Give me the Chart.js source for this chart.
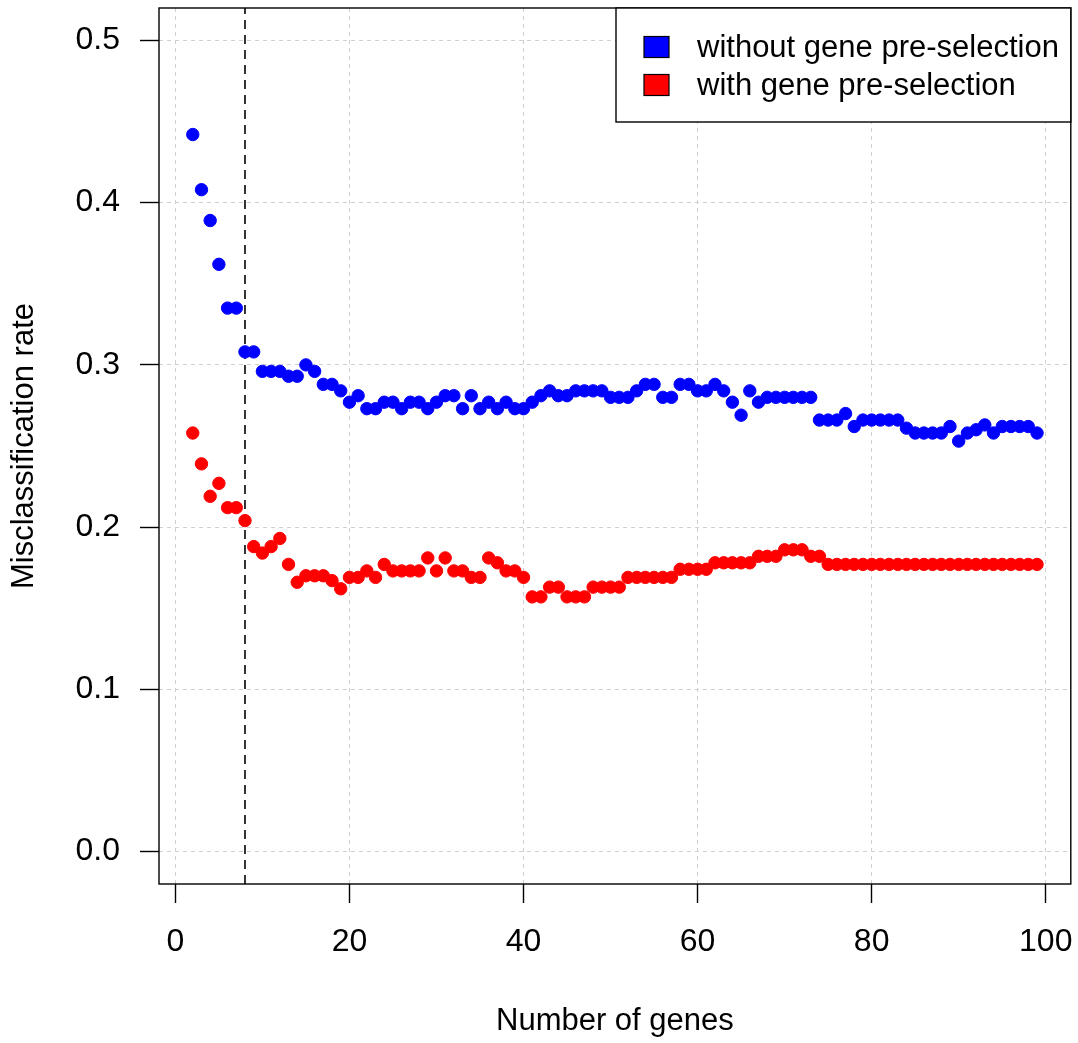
<!DOCTYPE html>
<html>
<head>
<meta charset="utf-8">
<script src="https://cdn.jsdelivr.net/npm/chart.js@4.4.1/dist/chart.umd.min.js"></script>
<style>
  html, body { margin: 0; padding: 0; background: #ffffff; }
  #c { display: block; }
</style>
</head>
<body>
<canvas id="c" width="1078" height="1043"></canvas>
<script>
// ---- data ----
const genes = [2,3,4,5,6,7,8,9,10,11,12,13,14,15,16,17,18,19,20,21,22,23,24,25,26,27,28,29,30,
  31,32,33,34,35,36,37,38,39,40,41,42,43,44,45,46,47,48,49,50,51,52,53,54,55,56,57,58,59,60,
  61,62,63,64,65,66,67,68,69,70,71,72,73,74,75,76,77,78,79,80,81,82,83,84,85,86,87,88,89,90,
  91,92,93,94,95,96,97,98,99];

const withoutPre = [0.442,0.408,0.389,0.362,0.335,0.335,0.308,0.308,0.296,0.296,0.296,0.293,0.293,0.300,
  0.296,0.288,0.288,0.284,0.277,0.281,0.273,0.273,0.277,0.277,0.273,0.277,0.277,0.273,0.277,
  0.281,0.281,0.273,0.281,0.273,0.277,0.273,0.277,0.273,0.273,0.277,0.281,0.284,0.281,0.281,
  0.284,0.284,0.284,0.284,0.280,0.280,0.280,0.284,0.288,0.288,0.280,0.280,0.288,0.288,0.284,
  0.284,0.288,0.284,0.277,0.269,0.284,0.277,0.280,0.280,0.280,0.280,0.280,0.280,0.266,0.266,
  0.266,0.270,0.262,0.266,0.266,0.266,0.266,0.266,0.261,0.258,0.258,0.258,0.258,0.262,0.253,
  0.258,0.260,0.263,0.258,0.262,0.262,0.262,0.262,0.258];

const withPre = [0.258,0.239,0.219,0.227,0.212,0.212,0.204,0.188,0.184,0.188,0.193,0.177,0.166,0.170,
  0.170,0.170,0.167,0.162,0.169,0.169,0.173,0.169,0.177,0.173,0.173,0.173,0.173,0.181,0.173,
  0.181,0.173,0.173,0.169,0.169,0.181,0.178,0.173,0.173,0.169,0.157,0.157,0.163,0.163,0.157,
  0.157,0.157,0.163,0.163,0.163,0.163,0.169,0.169,0.169,0.169,0.169,0.169,0.174,0.174,0.174,
  0.174,0.178,0.178,0.178,0.178,0.178,0.182,0.182,0.182,0.186,0.186,0.186,0.182,0.182,0.177,
  0.177,0.177,0.177,0.177,0.177,0.177,0.177,0.177,0.177,0.177,0.177,0.177,0.177,0.177,0.177,
  0.177,0.177,0.177,0.177,0.177,0.177,0.177,0.177,0.177];

const seriesLabels = ["without gene pre-selection", "with gene pre-selection"];
const seriesColors = ["#0000ff", "#ff0000"];
const xTicks = [0, 20, 40, 60, 80, 100];
const yTicks = [0.0, 0.1, 0.2, 0.3, 0.4, 0.5];
const cutoff = 8;
const xRange = [-1.88, 102.88];
const yRange = [-0.02, 0.52];
const xTitle = "Number of genes";
const yTitle = "Misclassification rate";

// ---- build chart ----
const FONT = "'Liberation Sans', Arial, sans-serif";
const toXY = (vals) => genes.map((g, i) => ({ x: g, y: vals[i] }));

const frameAndLegend = {
  id: 'frameAndLegend',
  afterDraw(chart) {
    const { ctx, chartArea: a } = chart;
    ctx.save();
    // plot frame (box)
    ctx.strokeStyle = '#000';
    ctx.lineWidth = 1.4;
    ctx.strokeRect(a.left, a.top, a.right - a.left, a.bottom - a.top);
    // legend box in top-right corner
    const lx = 616, ly = a.top, lw = a.right - 616, lh = 114;
    ctx.fillStyle = '#fff';
    ctx.fillRect(lx, ly, lw, lh);
    ctx.strokeRect(lx, ly, lw, lh);
    const rows = [47, 85];
    ctx.font = "31px " + FONT;
    ctx.textBaseline = 'middle';
    ctx.textAlign = 'left';
    seriesLabels.forEach((lab, i) => {
      const cy = rows[i];
      ctx.fillStyle = seriesColors[i];
      ctx.fillRect(644, cy - 10.5, 25, 21);
      ctx.lineWidth = 1.2;
      ctx.strokeStyle = '#000';
      ctx.strokeRect(644, cy - 10.5, 25, 21);
      ctx.fillStyle = '#000';
      ctx.fillText(lab, 697, cy + 1);
    });
    ctx.restore();
  }
};

const pointDs = (i, vals) => ({
  type: 'scatter',
  label: seriesLabels[i],
  data: toXY(vals),
  backgroundColor: seriesColors[i],
  borderColor: seriesColors[i],
  pointRadius: 6.2,
  pointBorderWidth: 1,
  pointHoverRadius: 6.2,
  showLine: false
});

new Chart(document.getElementById('c'), {
  type: 'scatter',
  data: {
    datasets: [
      pointDs(0, withoutPre),
      pointDs(1, withPre),
      {
        type: 'line',
        label: 'cutoff',
        data: [{ x: cutoff, y: yRange[0] }, { x: cutoff, y: yRange[1] }],
        borderColor: '#000',
        borderWidth: 1.6,
        borderDash: [9, 6],
        pointRadius: 0,
        fill: false
      }
    ]
  },
  options: {
    responsive: false,
    animation: false,
    devicePixelRatio: 1,
    layout: { padding: { left: 0, right: 6, top: 8, bottom: 0 } },
    plugins: {
      legend: { display: false },
      tooltip: { enabled: false }
    },
    scales: {
      x: {
        type: 'linear',
        min: xRange[0],
        max: xRange[1],
        afterBuildTicks: (s) => { s.ticks = xTicks.map(v => ({ value: v })); },
        afterFit: (s) => { s.height = 159; s.paddingLeft = 0; s.paddingRight = 0; s.paddingTop = 0; s.paddingBottom = 0; },
        ticks: {
          font: { family: FONT, size: 32 },
          color: '#000',
          padding: 20,
          maxRotation: 0,
          autoSkip: false,
          callback: (v) => String(v)
        },
        grid: {
          color: '#d0d0d0',
          lineWidth: 1,
          drawTicks: true,
          tickLength: 19,
          tickColor: '#000',
          tickWidth: 1.4,
          tickBorderDash: []
        },
        border: { display: false, dash: [4, 4] },
        title: {
          display: true,
          text: xTitle,
          font: { family: FONT, size: 31 },
          color: '#000',
          padding: { top: 0, bottom: 3 }
        }
      },
      y: {
        type: 'linear',
        min: yRange[0],
        max: yRange[1],
        afterBuildTicks: (s) => { s.ticks = yTicks.map(v => ({ value: v })); },
        afterFit: (s) => { s.width = 159; s.paddingLeft = 0; s.paddingRight = 0; s.paddingTop = 0; s.paddingBottom = 0; },
        ticks: {
          font: { family: FONT, size: 32 },
          color: '#000',
          padding: 20,
          autoSkip: false,
          callback: (v) => Number(v).toFixed(1)
        },
        grid: {
          color: '#d0d0d0',
          lineWidth: 1,
          drawTicks: true,
          tickLength: 19,
          tickColor: '#000',
          tickWidth: 1.4,
          tickBorderDash: []
        },
        border: { display: false, dash: [4, 4] },
        title: {
          display: true,
          text: yTitle,
          font: { family: FONT, size: 31 },
          color: '#000',
          padding: { top: 6, bottom: 0 }
        }
      }
    }
  },
  plugins: [frameAndLegend]
});
</script>
</body>
</html>
